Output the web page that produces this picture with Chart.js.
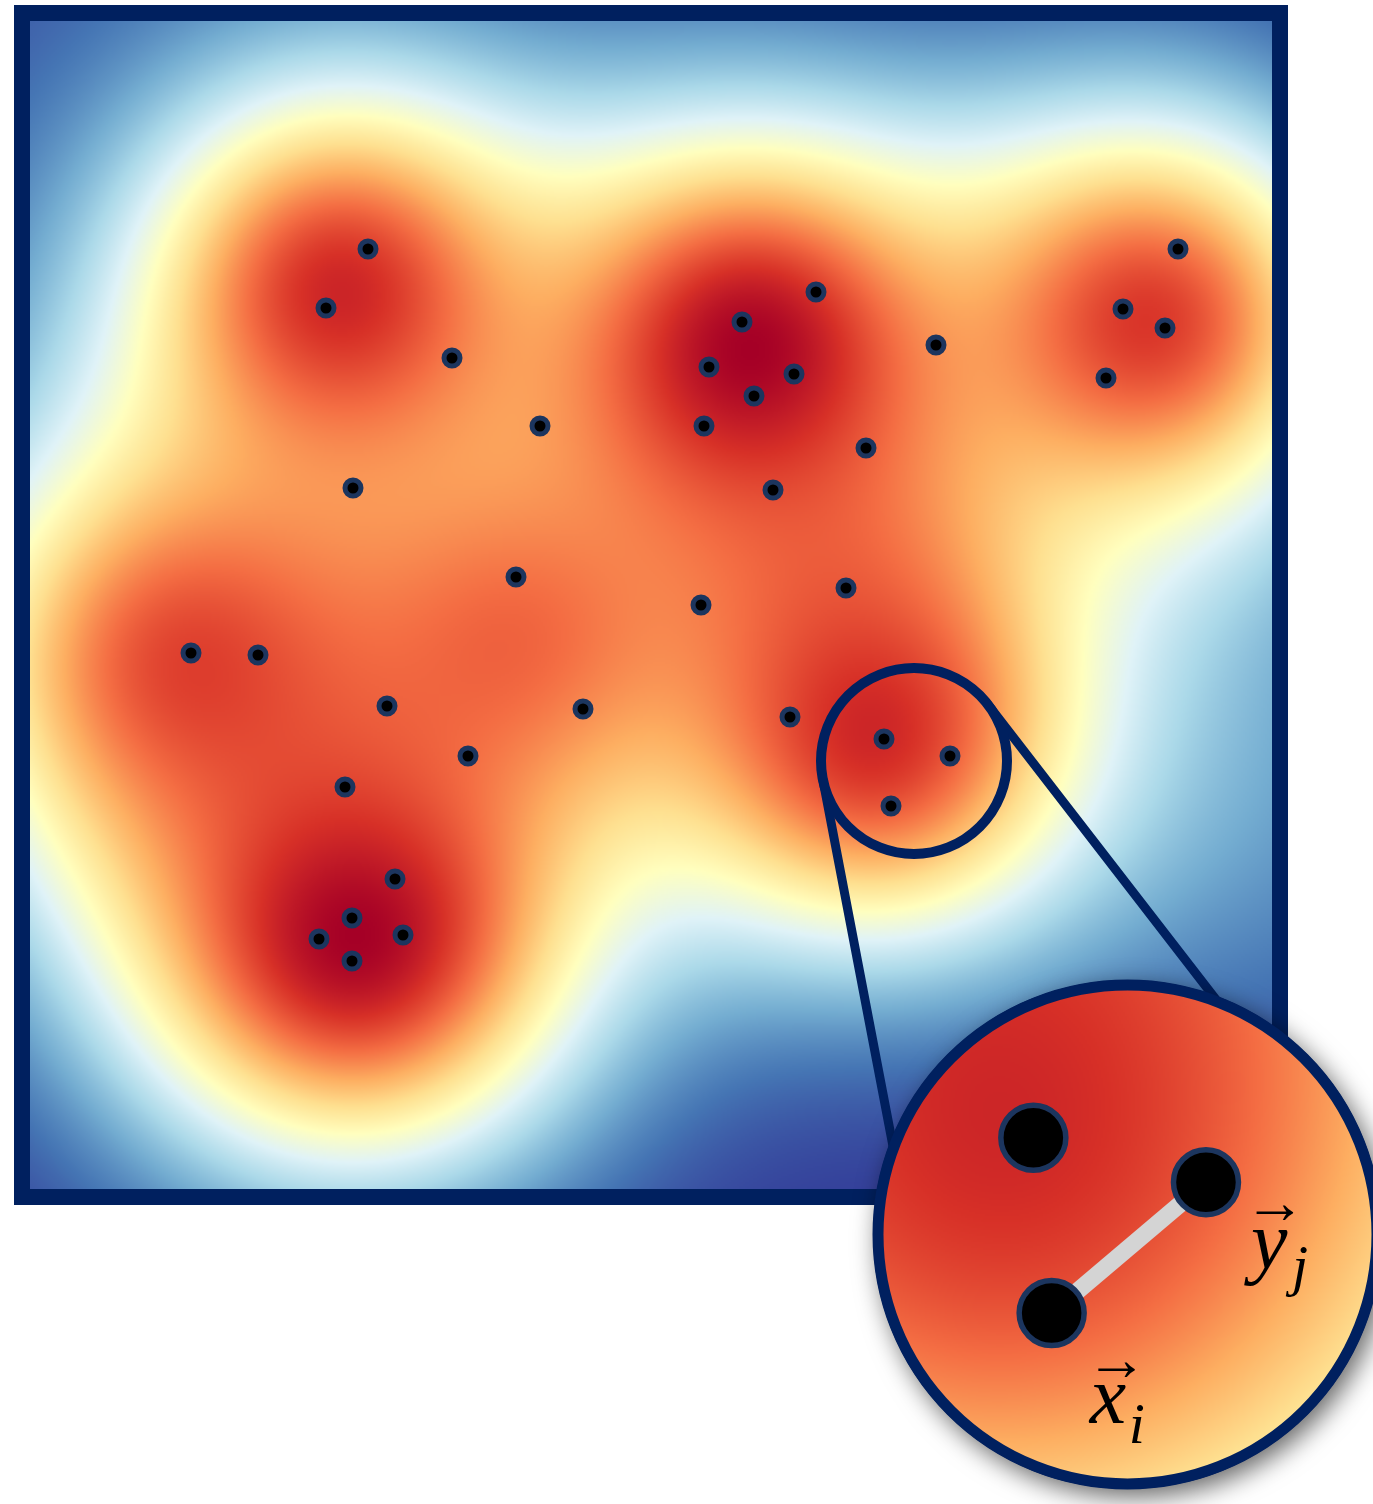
<!DOCTYPE html>
<html>
<head>
<meta charset="utf-8">
<script src="https://cdn.jsdelivr.net/npm/chart.js@4.4.1/dist/chart.umd.min.js"></script>
<style>
html, body { margin: 0; padding: 0; background: #fff; overflow: hidden; }
#wrap { position: relative; width: 1373px; height: 1504px; overflow: hidden; }
#mainCanvas { position: absolute; left: 0; top: 0; }
#zoomCanvas { position: absolute; left: 840px; top: 947px; }
#fontProbe { font-family: 'Liberation Serif'; font-style: italic; position: absolute; left: -999px; }
</style>
</head>
<body>
<div id="wrap">
<canvas id="mainCanvas" width="1373" height="1504"></canvas>
<canvas id="zoomCanvas" width="575" height="575"></canvas>
<span id="fontProbe">xyij</span>
</div>
<script>
//sample points (x right, y up)
var pointX = [3.38, 2.96, 4.22, 5.10, 3.23, 7.86, 7.12, 6.79, 7.64, 7.24, 6.74, 9.06, 8.36, 7.43,
    11.48, 10.93, 11.35, 10.76, 4.86, 6.71, 8.16, 1.61, 2.28, 3.57, 5.53, 4.38, 3.15,
    7.60, 8.54, 9.20, 8.61, 3.65, 3.22, 2.89, 3.73, 3.22];
var pointY = [9.40, 8.81, 8.31, 7.63, 7.01, 8.97, 8.67, 8.22, 8.15, 7.93, 7.63, 8.44, 7.41, 6.99,
    9.40, 8.80, 8.61, 8.11, 6.12, 5.84, 6.01, 5.36, 5.34, 4.83, 4.80, 4.33, 4.02,
    4.72, 4.50, 4.33, 3.83, 3.10, 2.71, 2.50, 2.54, 2.28];

//density blobs
var blobX      = [3.10, 7.20, 11.20, 1.50, 3.25, 8.45, 4.90, 8.20, 12.20, 0.00];
var blobY      = [8.99, 8.39, 8.69, 5.29, 2.54, 4.49, 5.49, 6.09, 4.09, 11.68];
var blobSpread = [1.65, 1.80, 1.70, 1.90, 1.85, 1.65, 1.60, 1.40, 2.20, 4.50];
var blobWeight = [0.92, 1.00, 0.90, 0.85, 1.00, 0.90, 0.70, 0.40, 0.22, 0.08];
var colorGamma = 1.25;

//RdYlBu reversed
var colorStops = ["#313695", "#4575b4", "#74add1", "#abd9e9", "#e0f3f8", "#ffffbf",
    "#fee090", "#fdae61", "#f46d43", "#d73027", "#a50026"];

//axis ranges
var xMin = 0, xMax = 12.42, yMin = 0, yMax = 11.68;

//magnifier
var lensX = 8.84, lensY = 4.28, lensR = 0.93;
var zoomCenterX = 8.90, zoomCenterY = 4.13, zoomHalf = 0.954;
var pairI = 30; // x_i
var pairJ = 29; // y_j

var navy = "#00205f";
var ringColor = "#1c355e";

var zoomLeft = 840, zoomTop = 947, zoomPad = 30, zoomSize = 515;

function hexToRgb(h){
    return [parseInt(h.substr(1,2),16), parseInt(h.substr(3,2),16), parseInt(h.substr(5,2),16)];
}
var stopRgb = colorStops.map(hexToRgb);

function colorAt(t){
    if(t < 0) t = 0;
    if(t > 1) t = 1;
    t = Math.pow(t, colorGamma);
    var pos = t * (stopRgb.length - 1);
    var i = Math.min(Math.floor(pos), stopRgb.length - 2);
    var f = pos - i;
    var a = stopRgb[i], b = stopRgb[i+1];
    return [a[0] + (b[0]-a[0])*f, a[1] + (b[1]-a[1])*f, a[2] + (b[2]-a[2])*f];
}

function fieldAt(x, y){
    var keep = 1;
    for(var k = 0; k < blobX.length; k++){
        var dx = x - blobX[k];
        var dy = y - blobY[k];
        var s = blobSpread[k];
        var v = blobWeight[k] * Math.exp(-(dx*dx + dy*dy) / (2*s*s));
        keep *= (1 - Math.min(v, 0.999));
    }
    return 1 - keep;
}

function drawHeat(chart){
    var ctx = chart.ctx;
    var area = chart.chartArea;
    var xs = chart.scales.x, ys = chart.scales.y;
    var cell = 2;
    var w = Math.ceil((area.right - area.left) / cell);
    var h = Math.ceil((area.bottom - area.top) / cell);
    var off = document.createElement("canvas");
    off.width = w;
    off.height = h;
    var octx = off.getContext("2d");
    var img = octx.createImageData(w, h);
    for(var j = 0; j < h; j++){
        var vy = ys.getValueForPixel(area.top + (j + 0.5) * cell);
        for(var i = 0; i < w; i++){
            var vx = xs.getValueForPixel(area.left + (i + 0.5) * cell);
            var c = colorAt(fieldAt(vx, vy));
            var p = (j * w + i) * 4;
            img.data[p] = c[0];
            img.data[p+1] = c[1];
            img.data[p+2] = c[2];
            img.data[p+3] = 255;
        }
    }
    octx.putImageData(img, 0, 0);
    ctx.imageSmoothingEnabled = true;
    ctx.drawImage(off, area.left, area.top, w * cell, h * cell);
}

function buildPoints(){
    var pts = [];
    for(var i = 0; i < pointX.length; i++){
        pts.push({x: pointX[i], y: pointY[i]});
    }
    return pts;
}

//lines from the lens towards the inset
function connectorLines(c1, r1, c2, r2){
    var dx = c2.x - c1.x, dy = c2.y - c1.y;
    var d = Math.sqrt(dx*dx + dy*dy);
    var base = Math.atan2(dy, dx);
    var phi = Math.acos((r1 - r2) / d);
    var lines = [];
    [base + phi, base - phi].forEach(function(a){
        var nx = Math.cos(a), ny = Math.sin(a);
        lines.push([c1.x + r1*nx, c1.y + r1*ny, c2.x + r2*nx, c2.y + r2*ny]);
    });
    return lines;
}

var mainPlugin = {
    id: "mainDecor",
    beforeDatasetsDraw: function(chart){
        drawHeat(chart);
    },
    afterDatasetsDraw: function(chart){
        var ctx = chart.ctx;
        var area = chart.chartArea;
        var xs = chart.scales.x, ys = chart.scales.y;
        ctx.save();
        //frame
        ctx.strokeStyle = navy;
        ctx.lineWidth = 16;
        ctx.strokeRect(area.left - 8, area.top - 8, area.right - area.left + 16, area.bottom - area.top + 16);
        //lens
        var cx = xs.getPixelForValue(lensX);
        var cy = ys.getPixelForValue(lensY);
        var r = xs.getPixelForValue(lensX + lensR) - cx;
        var big = {x: zoomLeft + zoomPad + zoomSize/2, y: zoomTop + zoomPad + zoomSize/2};
        var lines = connectorLines({x: cx, y: cy}, r, big, zoomSize/2 * 0.83);
        ctx.lineWidth = 9;
        ctx.lineCap = "round";
        lines.forEach(function(l){
            ctx.beginPath();
            ctx.moveTo(l[0], l[1]);
            ctx.lineTo(l[2], l[3]);
            ctx.stroke();
        });
        ctx.lineWidth = 10;
        ctx.beginPath();
        ctx.arc(cx, cy, r, 0, Math.PI*2);
        ctx.stroke();
        ctx.restore();
    }
};

var labelFont = "'Liberation Serif', 'DejaVu Serif', serif";

//vector arrow centred at (cx, cy) with a given ink width
function drawArrow(ctx, cx, cy, inkWidth){
    ctx.font = "40px " + labelFont;
    var m = ctx.measureText("\u2192");
    var w40 = m.actualBoundingBoxLeft + m.actualBoundingBoxRight;
    var size = 40 * inkWidth / w40;
    ctx.font = size + "px " + labelFont;
    m = ctx.measureText("\u2192");
    var left = cx - (m.actualBoundingBoxRight - m.actualBoundingBoxLeft) / 2;
    var base = cy + (m.actualBoundingBoxAscent - m.actualBoundingBoxDescent) / 2;
    ctx.textAlign = "left";
    ctx.fillText("\u2192", left, base);
}

var zoomPlugin = {
    id: "zoomDecor",
    beforeDatasetsDraw: function(chart){
        var ctx = chart.ctx;
        var area = chart.chartArea;
        var cx = (area.left + area.right) / 2;
        var cy = (area.top + area.bottom) / 2;
        var r = (area.right - area.left) / 2;
        ctx.save();
        ctx.shadowColor = "rgba(0,0,0,0.6)";
        ctx.shadowBlur = 26;
        ctx.shadowOffsetX = 6;
        ctx.shadowOffsetY = 8;
        ctx.fillStyle = navy;
        ctx.beginPath();
        ctx.arc(cx, cy, r + 5, 0, Math.PI*2);
        ctx.fill();
        ctx.restore();
        ctx.save();
        ctx.beginPath();
        ctx.arc(cx, cy, r, 0, Math.PI*2);
        ctx.clip();
        drawHeat(chart);
        ctx.restore();
    },
    afterDatasetsDraw: function(chart){
        var ctx = chart.ctx;
        var area = chart.chartArea;
        var xs = chart.scales.x, ys = chart.scales.y;
        var cx = (area.left + area.right) / 2;
        var cy = (area.top + area.bottom) / 2;
        var r = (area.right - area.left) / 2;
        ctx.save();
        ctx.strokeStyle = navy;
        ctx.lineWidth = 11;
        ctx.beginPath();
        ctx.arc(cx, cy, r, 0, Math.PI*2);
        ctx.stroke();
        //labels
        ctx.fillStyle = "#000";
        ctx.textBaseline = "alphabetic";
        var ix = xs.getPixelForValue(pointX[pairI]);
        var iy = ys.getPixelForValue(pointY[pairI]);
        var jx = xs.getPixelForValue(pointX[pairJ]);
        var jy = ys.getPixelForValue(pointY[pairJ]);
        ctx.textAlign = "left";
        ctx.font = "italic 82px " + labelFont;
        ctx.fillText("x", ix + 38, iy + 110);
        ctx.fillText("y", jx + 45, jy + 86);
        ctx.font = "italic 58px " + labelFont;
        ctx.fillText("i", ix + 77, iy + 130);
        ctx.fillText("j", jx + 86, jy + 103);
        drawArrow(ctx, ix + 65, iy + 57, 37);
        drawArrow(ctx, jx + 69, jy + 30, 37);
        ctx.restore();
    }
};

function start(){
    new Chart(document.getElementById("mainCanvas"), {
        type: "scatter",
        data: {
            datasets: [{
                data: buildPoints(),
                pointRadius: 8,
                borderWidth: 5,
                backgroundColor: "#000",
                borderColor: ringColor
            }]
        },
        options: {
            responsive: false,
            animation: false,
            layout: {padding: {left: 30, top: 21, right: 101, bottom: 315}},
            plugins: {legend: {display: false}, tooltip: {enabled: false}},
            scales: {
                x: {type: "linear", min: xMin, max: xMax, display: false},
                y: {type: "linear", min: yMin, max: yMax, display: false}
            }
        },
        plugins: [mainPlugin]
    });

    new Chart(document.getElementById("zoomCanvas"), {
        type: "scatter",
        data: {
            datasets: [{
                data: buildPoints(),
                pointRadius: 32.5,
                borderWidth: 5.5,
                backgroundColor: "#000",
                borderColor: ringColor,
                clip: false
            }, {
                data: [{x: pointX[pairI], y: pointY[pairI]}, {x: pointX[pairJ], y: pointY[pairJ]}],
                showLine: true,
                borderColor: "#d4d4d4",
                borderWidth: 17,
                pointRadius: 0,
                clip: false
            }]
        },
        options: {
            responsive: false,
            animation: false,
            layout: {padding: zoomPad},
            plugins: {legend: {display: false}, tooltip: {enabled: false}},
            scales: {
                x: {type: "linear", min: zoomCenterX - zoomHalf, max: zoomCenterX + zoomHalf, display: false},
                y: {type: "linear", min: zoomCenterY - zoomHalf, max: zoomCenterY + zoomHalf, display: false}
            }
        },
        plugins: [zoomPlugin]
    });
}

if(document.fonts && document.fonts.load){
    document.fonts.load("italic 80px 'Liberation Serif'").then(start, start);
} else {
    start();
}
</script>
</body>
</html>
